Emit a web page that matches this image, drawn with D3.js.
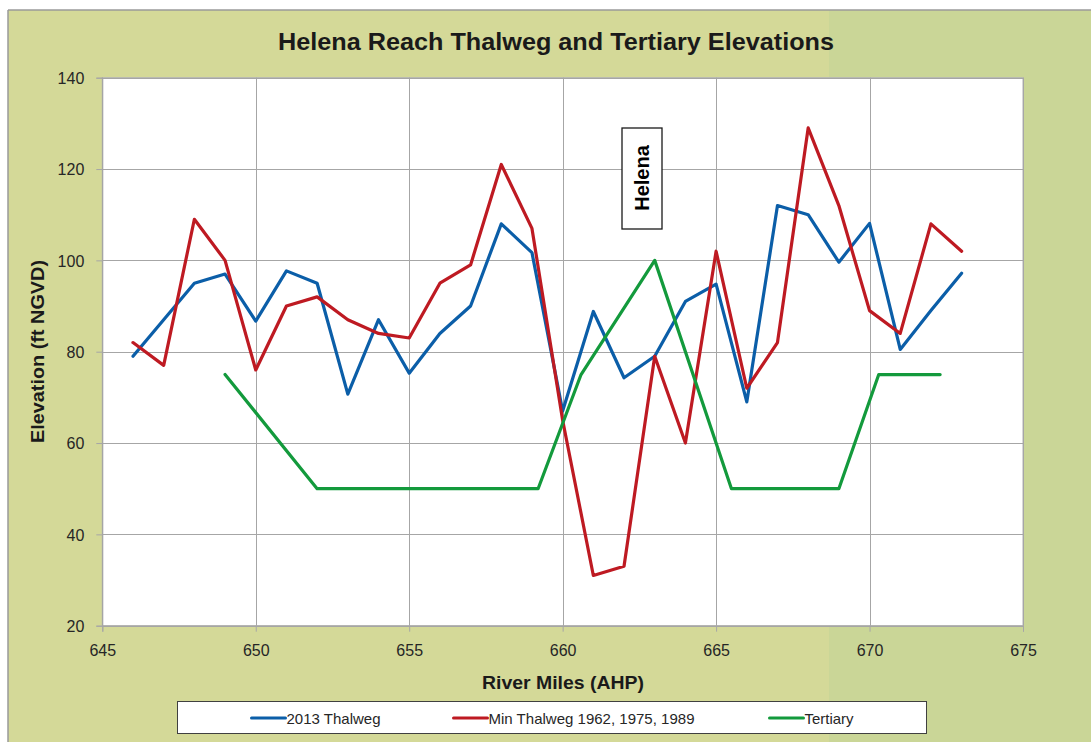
<!DOCTYPE html>
<html>
<head>
<meta charset="utf-8">
<script src="https://cdn.jsdelivr.net/npm/d3@7"></script>
<style>
  html, body { margin: 0; padding: 0; background: #ffffff; }
  svg { display: block; }
</style>
</head>
<body>
<svg id="chart" width="1091" height="742"></svg>
<script>
// ---- data ----
const miles = [646,647,648,649,650,651,652,653,654,655,656,657,658,659,660,661,662,663,664,665,666,667,668,669,670,671,672,673];
const thalweg2013 = [79,87,95,97,86.7,97.7,95,70.7,87,75.3,84,90,108,101.7,67,88.8,74.3,79,91,94.8,69,112,110,99.6,108.1,80.5,89,97.2];
const thalwegMin = [82,77,109,100,76,90,92,87,84,83,95,99,121,107,65,31,33,79,60,102,72,82,129,112,89,84,108,102];
const tertiaryMiles = [649,652,659.2,660.6,663,665.5,669,670.3,672.3];
const tertiary = [75,50,50,75,100,50,50,75,75];
const xTicks = [645,650,655,660,665,670,675];
const yTicks = [20,40,60,80,100,120,140];
const seriesNames = ["2013 Thalweg","Min Thalweg 1962, 1975, 1989","Tertiary"];
const seriesColors = ["#0b5ea8","#be1a22","#139a3c"];

// ---- layout ----
const svg = d3.select("#chart");
const W = 1091, H = 742;
const plot = {left: 102.3, right: 1023, top: 77.7, bottom: 625.7};
const font = "'Liberation Sans', Arial, sans-serif";

// background
svg.append("rect").attr("x", 8).attr("y", 10).attr("width", W - 8).attr("height", H - 10).attr("fill", "#d4d998");
svg.append("rect").attr("x", 829).attr("y", 10.5).attr("width", W - 829).attr("height", H - 10).attr("fill", "#cad697");
svg.append("line").attr("x1", 8).attr("x2", W).attr("y1", 10).attr("y2", 10).attr("stroke", "#9a9a9a").attr("stroke-width", 1.5);
svg.append("line").attr("x1", 8).attr("x2", 8).attr("y1", 10).attr("y2", H).attr("stroke", "#9a9a9a").attr("stroke-width", 1.5);

const x = d3.scaleLinear().domain([645, 675]).range([plot.left, plot.right]);
const y = d3.scaleLinear().domain([20, 140]).range([plot.bottom, plot.top]);

// plot area
svg.append("rect").attr("x", plot.left).attr("y", plot.top)
  .attr("width", plot.right - plot.left).attr("height", plot.bottom - plot.top)
  .attr("fill", "#ffffff").attr("stroke", "#b0b0b0").attr("stroke-width", 1);

// grid
const grid = svg.append("g");
grid.selectAll("line.h").data(yTicks).join("line").attr("class", "h")
  .attr("x1", plot.left).attr("x2", plot.right)
  .attr("y1", d => Math.round(y(d)) + 0.5).attr("y2", d => Math.round(y(d)) + 0.5)
  .attr("stroke", "#a6a6a6").attr("stroke-width", 1);
grid.selectAll("line.v").data(xTicks).join("line").attr("class", "v")
  .attr("y1", plot.top).attr("y2", plot.bottom)
  .attr("x1", d => Math.round(x(d)) + 0.5).attr("x2", d => Math.round(x(d)) + 0.5)
  .attr("stroke", "#a6a6a6").attr("stroke-width", 1);

// axes
const yAxis = d3.axisLeft(y).tickValues(yTicks).tickSize(6).tickPadding(12).tickFormat(d3.format("d"));
const xAxis = d3.axisBottom(x).tickValues(xTicks).tickSize(6).tickPadding(13).tickFormat(d3.format("d"));
const gy = svg.append("g").attr("transform", `translate(${plot.left},0)`).call(yAxis);
const gx = svg.append("g").attr("transform", `translate(0,${plot.bottom})`).call(xAxis);
[gx, gy].forEach(g => {
  g.select(".domain").attr("stroke", "#a6a6a6");
  g.selectAll(".tick line").attr("stroke", "#a6a6a6");
  g.selectAll(".tick text").attr("fill", "#262626").style("font-family", font).style("font-size", "16px");
});
gy.selectAll(".tick text").attr("dy", "0.36em");

// lines
const line = d3.line().x(d => x(d[0])).y(d => y(d[1]));
const data = [
  miles.map((m, i) => [m, thalweg2013[i]]),
  miles.map((m, i) => [m, thalwegMin[i]]),
  tertiaryMiles.map((m, i) => [m, tertiary[i]])
];
svg.append("g").selectAll("path").data(data).join("path")
  .attr("d", line).attr("fill", "none")
  .attr("stroke", (d, i) => seriesColors[i]).attr("stroke-width", 3.2)
  .attr("stroke-linejoin", "round").attr("stroke-linecap", "round");

// Helena annotation
const hx = 642, hy = 178;
svg.append("rect").attr("x", 622).attr("y", 128).attr("width", 40).attr("height", 101)
  .attr("fill", "#ffffff").attr("stroke", "#1a1a1a").attr("stroke-width", 1.3);
svg.append("text").attr("transform", `translate(${hx + 7},${hy}) rotate(-90)`)
  .attr("text-anchor", "middle").style("font-family", font).style("font-size", "20px")
  .style("font-weight", "bold").attr("fill", "#000").text("Helena");

// title
svg.append("text").attr("x", 556).attr("y", 50).attr("text-anchor", "middle")
  .style("font-family", font).style("font-size", "24px").style("font-weight", "bold")
  .attr("fill", "#1a1a1a").attr("textLength", 556).attr("lengthAdjust", "spacingAndGlyphs")
  .text("Helena Reach Thalweg and Tertiary Elevations");

// axis titles
svg.append("text").attr("transform", "translate(44,351.5) rotate(-90)").attr("text-anchor", "middle")
  .style("font-family", font).style("font-size", "18px").style("font-weight", "bold")
  .attr("fill", "#1a1a1a").attr("textLength", 183).attr("lengthAdjust", "spacingAndGlyphs")
  .text("Elevation (ft NGVD)");
svg.append("text").attr("x", 563).attr("y", 689).attr("text-anchor", "middle")
  .style("font-family", font).style("font-size", "18px").style("font-weight", "bold")
  .attr("fill", "#1a1a1a").attr("textLength", 162).attr("lengthAdjust", "spacingAndGlyphs")
  .text("River Miles (AHP)");

// legend
const legend = svg.append("g");
legend.append("rect").attr("x", 177.5).attr("y", 701.5).attr("width", 749).attr("height", 32)
  .attr("fill", "#ffffff").attr("stroke", "#404040").attr("stroke-width", 1);
const legX = [251.5, 453.5, 769.5];
const legW = [94, 206, 49];
const items = legend.selectAll("g.item").data(seriesNames).join("g").attr("class", "item")
  .attr("transform", (d, i) => `translate(${legX[i]},718)`);
items.append("line").attr("x1", 0).attr("x2", 34).attr("y1", 0).attr("y2", 0)
  .attr("stroke", (d, i) => seriesColors[i]).attr("stroke-width", 3).attr("stroke-linecap", "round");
items.append("text").attr("x", 35).attr("y", 5.5)
  .style("font-family", font).style("font-size", "15px").attr("fill", "#262626")
  .attr("textLength", (d, i) => legW[i]).attr("lengthAdjust", "spacingAndGlyphs")
  .text(d => d);
</script>
</body>
</html>
